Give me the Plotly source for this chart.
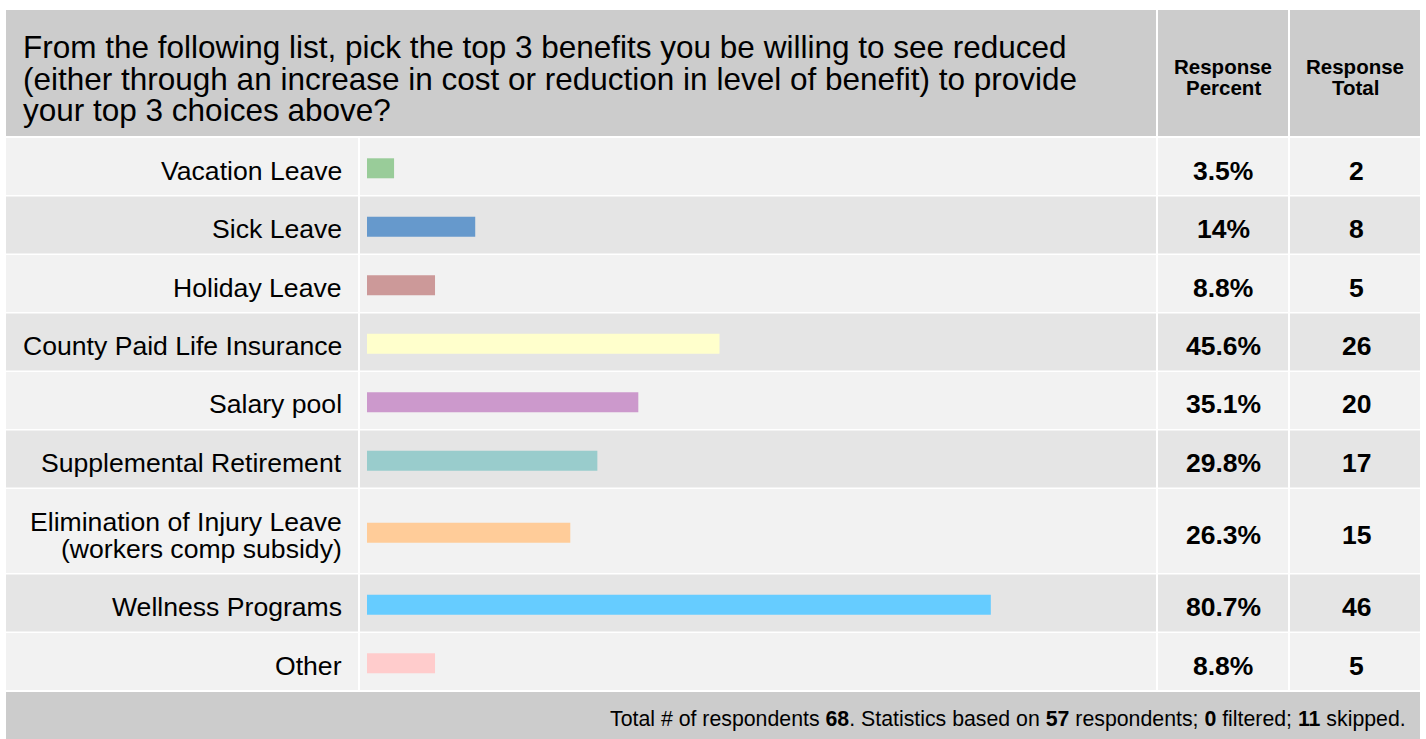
import plotly.graph_objects as go

# ---------------- data ----------------
categories = [
    "Vacation Leave",
    "Sick Leave",
    "Holiday Leave",
    "County Paid Life Insurance",
    "Salary pool",
    "Supplemental Retirement",
    "Elimination of Injury Leave<br>(workers comp subsidy)",
    "Wellness Programs",
    "Other",
]
percent_values = [3.5, 14, 8.8, 45.6, 35.1, 29.8, 26.3, 80.7, 8.8]
percent_labels = ["3.5%", "14%", "8.8%", "45.6%", "35.1%", "29.8%", "26.3%", "80.7%", "8.8%"]
total_values = [2, 8, 5, 26, 20, 17, 15, 46, 5]
bar_colors = ["#99cc99", "#6699cc", "#cc9999", "#ffffcc", "#cc99cc",
              "#99cccc", "#ffcc99", "#66ccff", "#ffcccc"]
title_lines = [
    "From the following list, pick the top 3 benefits you be willing to see reduced",
    "(either through an increase in cost or reduction in level of benefit) to provide",
    "your top 3 choices above?",
]
header_percent = ["Response", "Percent"]
header_total = ["Response", "Total"]
footer_html = ("Total # of respondents <b>68</b>. Statistics based on <b>57</b> respondents; "
               "<b>0</b> filtered; <b>11</b> skipped.")

# ---------------- layout constants (pixels) ----------------
W, H = 1426, 739
LEFT, RIGHT = 6, 1420
HEAD_TOP, HEAD_BOT = 10, 136
ROW_TOP0 = 138
GAP = 1.5
ROW_H = 57
TALL_H = 84
FOOT_TOP, FOOT_BOT = 692, 739
COL_LABEL = (LEFT, 358)
COL_BAR = (360, 1156)
COL_PCT = (1158, 1288)
COL_TOT = (1290, RIGHT)
BAR_X0, BAR_X100 = 367, 1140
FONT = "Liberation Sans, Arial, Helvetica, sans-serif"


def px(x):
    return x / W


def py(y):
    return 1 - y / H


# row geometry
row_tops, row_bots = [], []
t = ROW_TOP0
for c in categories:
    h = TALL_H if "<br>" in c else ROW_H
    row_tops.append(t)
    row_bots.append(t + h)
    t += h + GAP
row_centers = [(a + b) / 2 for a, b in zip(row_tops, row_bots)]

shapes = []


def rect(x0, y0, x1, y1, color):
    shapes.append(dict(type="rect", xref="paper", yref="paper",
                       x0=px(x0), x1=px(x1), y0=py(y1), y1=py(y0),
                       fillcolor=color, line=dict(width=0), layer="below"))


# header
rect(LEFT, HEAD_TOP, COL_BAR[1], HEAD_BOT, "#cccccc")
rect(COL_PCT[0], HEAD_TOP, COL_PCT[1], HEAD_BOT, "#cccccc")
rect(COL_TOT[0], HEAD_TOP, COL_TOT[1], HEAD_BOT, "#cccccc")
# rows
for i, (a, b) in enumerate(zip(row_tops, row_bots)):
    col = "#f2f2f2" if i % 2 == 0 else "#e5e5e5"
    for c0, c1 in (COL_LABEL, COL_BAR, COL_PCT, COL_TOT):
        rect(c0, a, c1, b, col)
# footer
rect(LEFT, FOOT_TOP, RIGHT, FOOT_BOT, "#cccccc")

annotations = []


def text(x, y, s, size, xanchor="center", bold=False):
    annotations.append(dict(xref="paper", yref="paper", x=px(x), y=py(y),
                            text=(f"<b>{s}</b>" if bold else s), showarrow=False,
                            xanchor=xanchor, yanchor="middle",
                            font=dict(family=FONT, size=size, color="#000000")))


# title
for i, line in enumerate(title_lines):
    text(21, 47 + i * 31.5, line, 31.5, xanchor="left")
# column headers
for i, (a, b) in enumerate(zip(header_percent, header_total)):
    text((COL_PCT[0] + COL_PCT[1]) / 2, 66 + i * 21, a, 20.5, bold=True)
    text((COL_TOT[0] + COL_TOT[1]) / 2, 66 + i * 21, b, 20.5, bold=True)
# row labels and values
for i, c in enumerate(categories):
    yc = row_centers[i] + 4
    lines = c.split("<br>")
    n = len(lines)
    for j, ln in enumerate(lines):
        text(344, yc + (j - (n - 1) / 2) * 27, ln, 26.6, xanchor="right")
    text((COL_PCT[0] + COL_PCT[1]) / 2, yc, percent_labels[i], 26.5, bold=True)
    text((COL_TOT[0] + COL_TOT[1]) / 2 + 1, yc, str(total_values[i]), 26.5, bold=True)
# footer
text(1408, 719, footer_html, 21.3, xanchor="right")

bar_y = [c + 1.8 for c in row_centers]

fig = go.Figure()
fig.add_trace(go.Bar(
    x=percent_values, y=bar_y, orientation="h", width=20,
    marker=dict(color=bar_colors, line=dict(width=0)),
    xaxis="x2", yaxis="y", hoverinfo="skip", showlegend=False,
))

fig.update_layout(
    width=W, height=H,
    margin=dict(l=0, r=0, t=0, b=0),
    paper_bgcolor="#ffffff", plot_bgcolor="rgba(0,0,0,0)",
    shapes=shapes, annotations=annotations,
    xaxis=dict(range=[0, W], domain=[0, 1], visible=False, fixedrange=True),
    xaxis2=dict(range=[0, 100], domain=[px(BAR_X0), px(BAR_X100)], anchor="y",
                visible=False, fixedrange=True),
    yaxis=dict(range=[H, 0], domain=[0, 1], visible=False, fixedrange=True),
    showlegend=False,
)

fig.write_html("out.html", config={"displayModeBar": False},
               post_script="document.body.style.margin='0px';document.body.style.overflow='hidden';")
